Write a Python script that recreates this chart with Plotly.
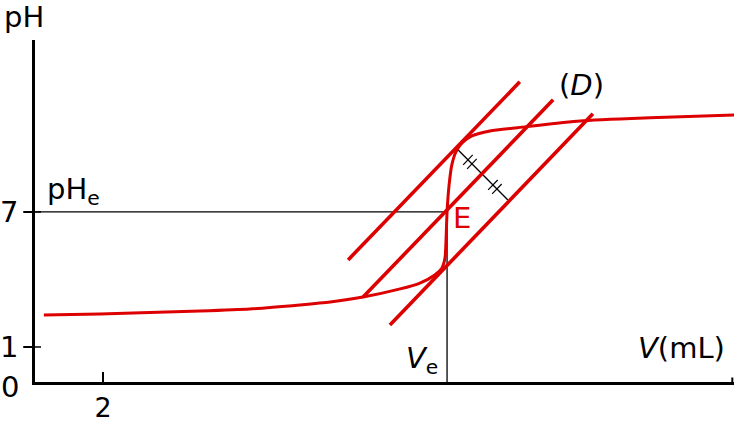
import plotly.graph_objects as go

# ---- data (mL, pH) ----
curve_v = [0.26, 1.91, 4.85, 6.32, 7.79, 8.68, 9.65, 10.74, 11.32, 11.76, 11.97, 12.06,
           12.09, 12.12, 12.18, 12.26, 12.38, 12.56, 12.85, 13.38, 14.41, 16.03, 18.09, 20.59]
curve_ph = [2.42, 2.47, 2.60, 2.69, 2.87, 3.00, 3.22, 3.58, 3.84, 4.20, 4.51, 4.96,
            5.76, 7.00, 8.20, 9.09, 9.67, 10.07, 10.38, 10.60, 10.78, 11.04, 11.18, 11.31]

tangent_upper_v = [9.21, 14.26]
tangent_upper_ph = [4.87, 12.78]
tangent_mid_v = [9.65, 15.24]
tangent_mid_ph = [3.22, 11.98]
tangent_lower_v = [10.44, 16.41]
tangent_lower_ph = [1.98, 11.36]

Ve = 12.12
pHe = 7.0

hash_v = [12.44, 13.91]
hash_ph = [9.76, 7.53]
mark_fracs = [0.20, 0.28, 0.70, 0.78]
mark_half = (0.14, 0.22)

x_tickvals = [2]
y_tickvals = [1, 7]
x_range = [0, 20.56]
y_range = [-0.556, 14.64]

RED = "#dd0000"
FONT = "DejaVu Sans"
FS = 29

fig = go.Figure()

# reference lines
fig.add_trace(go.Scatter(x=[0, Ve], y=[pHe, pHe], mode="lines",
                         line=dict(color="black", width=1.3), hoverinfo="skip"))
fig.add_trace(go.Scatter(x=[Ve, Ve], y=[y_range[0], pHe], mode="lines",
                         line=dict(color="black", width=1.3), hoverinfo="skip"))

# hash segment and marks
fig.add_trace(go.Scatter(x=hash_v, y=hash_ph, mode="lines",
                         line=dict(color="black", width=1.3), hoverinfo="skip"))
mx, my = [], []
for f in mark_fracs:
    cx = hash_v[0] + f * (hash_v[1] - hash_v[0])
    cy = hash_ph[0] + f * (hash_ph[1] - hash_ph[0])
    mx += [cx - mark_half[0], cx + mark_half[0], None]
    my += [cy - mark_half[1], cy + mark_half[1], None]
fig.add_trace(go.Scatter(x=mx, y=my, mode="lines",
                         line=dict(color="black", width=1.2), hoverinfo="skip"))

# tangents
for tv, tp in [(tangent_upper_v, tangent_upper_ph), (tangent_mid_v, tangent_mid_ph),
               (tangent_lower_v, tangent_lower_ph)]:
    fig.add_trace(go.Scatter(x=tv, y=tp, mode="lines",
                             line=dict(color=RED, width=3.6), hoverinfo="skip"))

# titration curve
fig.add_trace(go.Scatter(x=curve_v, y=curve_ph, mode="lines", line_shape="spline",
                         line=dict(color=RED, width=3, smoothing=0.6), hoverinfo="skip"))

# annotations inside the plot (data coords)
ann = [
    dict(x=0.28, y=7.95, text="pH<sub>e</sub>", xanchor="left", yanchor="middle"),
    dict(x=12.57, y=6.73, text="E", xanchor="center", yanchor="middle", color=RED),
    dict(x=16.06, y=12.64, text="(<i>D</i>)", xanchor="center", yanchor="middle"),
    dict(x=19.03, y=0.95, text="<i>V</i>(mL)", xanchor="center", yanchor="middle"),
    dict(x=11.38, y=0.4, text="<i>V</i><sub>e</sub>", xanchor="center", yanchor="middle"),
]
for a in ann:
    fig.add_annotation(x=a["x"], y=a["y"], text=a["text"], xanchor=a["xanchor"],
                       yanchor=a["yanchor"], showarrow=False,
                       font=dict(family=FONT, size=FS, color=a.get("color", "black")))

# annotations outside the plot area (paper coords)
for text, px_, py_, xa in [("pH", -0.0472, 1.067, "left"), ("0", -0.0358, -0.0146, "center")]:
    fig.add_annotation(x=px_, y=py_, xref="paper", yref="paper", text=text,
                       xanchor=xa, yanchor="middle", showarrow=False,
                       font=dict(family=FONT, size=FS, color="black"))

# tick marks crossing the axes
for v in y_tickvals:
    fig.add_shape(type="line", xref="paper", yref="y", x0=-0.0172, x1=0.0086,
                  y0=v, y1=v, line=dict(color="black", width=1.5))
for v in x_tickvals:
    fig.add_shape(type="line", xref="x", yref="paper", x0=v, x1=v,
                  y0=-0.009, y1=0.029, line=dict(color="black", width=1.5))

fig.add_shape(type="line", x0=x_range[1] - 0.05, x1=x_range[1] - 0.05,
              y0=y_range[0], y1=y_range[0] + 0.2, line=dict(color="black", width=2))

fig.update_layout(
    width=740, height=425,
    margin=dict(l=35, r=6, t=40, b=43, autoexpand=False),
    paper_bgcolor="white", plot_bgcolor="white",
    showlegend=False,
    font=dict(family=FONT, size=FS, color="black"),
    xaxis=dict(range=x_range, showgrid=False, zeroline=False, showline=True,
               linecolor="black", linewidth=2.5, ticks="inside", ticklen=10,
               tickwidth=1.5, tickcolor="black", tickvals=x_tickvals,
               ticktext=[str(v) for v in x_tickvals], fixedrange=True,
               tickfont=dict(size=27), automargin=False),
    yaxis=dict(range=y_range, showgrid=False, zeroline=False, showline=True,
               linecolor="black", linewidth=2.5, ticks="outside", ticklen=8,
               tickwidth=1.5, tickcolor="black", tickvals=y_tickvals,
               ticktext=[str(v) for v in y_tickvals], fixedrange=True,
               automargin=False),
)

fig.write_html("out.html", config={"displayModeBar": False},
               post_script="document.body.style.margin='0';document.body.style.overflow='hidden';")
